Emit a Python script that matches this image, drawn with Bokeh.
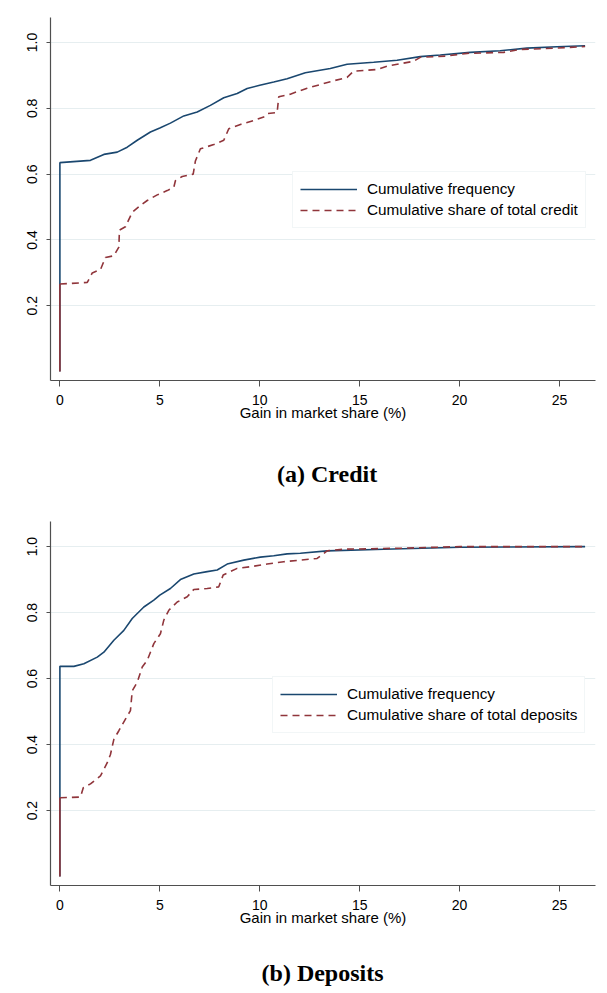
from bokeh.plotting import figure
from bokeh.models import (FixedTicker, NumeralTickFormatter, Legend, LegendItem,
                          Range1d)
from bokeh.core.properties import value
from bokeh.layouts import column
from bokeh.embed import file_html
from bokeh.resources import INLINE

# ---- Panel (a): credit ----
credit_freq_x = [0, 0, 1.53, 2.2, 2.87, 3.37, 3.87, 4.53, 5.0, 5.53, 6.2, 6.87, 7.53,
                 8.2, 8.87, 9.37, 10.0, 10.7, 11.37, 12.28, 13.53, 14.37, 15.7, 16.87,
                 18.03, 19.03, 20.53, 22.03, 23.37, 24.87, 26.28]
credit_freq_y = [0.0, 0.635, 0.642, 0.66, 0.667, 0.682, 0.703, 0.728, 0.74, 0.755, 0.777,
                 0.789, 0.809, 0.832, 0.845, 0.86, 0.87, 0.88, 0.89, 0.908, 0.921, 0.934,
                 0.94, 0.946, 0.957, 0.962, 0.97, 0.975, 0.983, 0.987, 0.99]

credit_share_x = [0, 0, 1.37, 1.62, 2.03, 2.28, 2.7, 2.95, 2.98, 3.28, 3.62, 4.03, 4.37,
                  4.87, 5.37, 5.7, 5.78, 6.12, 6.67, 6.78, 7.03, 7.7, 8.2, 8.45, 9.03,
                  9.7, 10.2, 10.37, 10.87, 10.95, 11.53, 12.03, 12.37, 13.53, 14.37,
                  14.7, 15.87, 16.37, 17.7, 18.03, 19.37, 20.37, 22.2, 23.03, 24.87, 26.28]
credit_share_y = [0.0, 0.266, 0.271, 0.30, 0.31, 0.347, 0.352, 0.378, 0.43, 0.44, 0.484,
                  0.505, 0.52, 0.537, 0.55, 0.56, 0.58, 0.593, 0.60, 0.64, 0.677, 0.69,
                  0.703, 0.738, 0.751, 0.763, 0.774, 0.784, 0.787, 0.835, 0.843, 0.854,
                  0.861, 0.881, 0.894, 0.913, 0.918, 0.928, 0.943, 0.955, 0.959, 0.967,
                  0.97, 0.979, 0.983, 0.988]

# ---- Panel (b): deposits ----
dep_freq_x = [0, 0, 0.7, 1.2, 1.87, 2.2, 2.7, 3.2, 3.62, 4.2, 4.7, 5.0, 5.53, 6.03, 6.7,
              7.37, 7.87, 8.37, 9.2, 10.03, 10.7, 11.37, 12.03, 13.37, 16.2, 20.03, 26.28]
dep_freq_y = [0.0, 0.637, 0.637, 0.645, 0.665, 0.68, 0.716, 0.746, 0.782, 0.817, 0.838,
              0.853, 0.873, 0.90, 0.917, 0.924, 0.929, 0.947, 0.959, 0.968, 0.972, 0.978,
              0.98, 0.987, 0.992, 0.998, 1.0]

dep_share_x = [0, 0, 1.03, 1.17, 1.53, 2.03, 2.37, 2.53, 2.7, 2.95, 3.28, 3.53, 3.62,
               3.87, 4.12, 4.37, 4.7, 5.03, 5.2, 5.45, 5.87, 6.37, 6.7, 7.37, 7.95, 8.17,
               8.87, 9.53, 10.37, 11.2, 12.87, 13.37, 14.2, 17.03, 20.03, 26.28]
dep_share_y = [0.0, 0.239, 0.241, 0.269, 0.281, 0.305, 0.345, 0.37, 0.416, 0.442, 0.477,
               0.503, 0.563, 0.589, 0.635, 0.655, 0.706, 0.736, 0.777, 0.807, 0.832,
               0.848, 0.87, 0.873, 0.878, 0.914, 0.934, 0.939, 0.947, 0.954, 0.964,
               0.987, 0.992, 0.995, 1.0, 1.0]

x_ticks = [0, 5, 10, 15, 20, 25]
y_ticks = [0.2, 0.4, 0.6, 0.8, 1.0]
x_title = "Gain in market share (%)"
freq_label = "Cumulative frequency"

BLUE = "#1a476f"
RED = "#90353b"
GRID = "#e6eef0"
AXIS = "#4f4f4f"
FONT = "Liberation Sans"


def panel(fx, fy, sx, sy, share_label, height, top, bottom, legend_left, legend_bottom):
    p = figure(width=607, height=height, output_backend="svg", toolbar_location=None,
               x_range=Range1d(-0.47, 26.8), y_range=Range1d(-0.027, 1.076),
               min_border_left=50, min_border_right=12, min_border_top=top,
               min_border_bottom=bottom)
    p.outline_line_color = None
    p.background_fill_color = "white"
    p.border_fill_color = "white"

    r_freq = p.line(fx, fy, line_color=BLUE, line_width=1.6)
    # the jump at zero is drawn solid, the rest of the share curve dashed
    p.line(sx[:2], sy[:2], line_color=RED, line_width=1.6)
    r_share = p.line(sx[1:], sy[1:], line_color=RED, line_width=1.6, line_dash="7 5")

    p.xgrid.visible = False
    p.ygrid.ticker = FixedTicker(ticks=y_ticks)
    p.ygrid.grid_line_color = GRID
    p.ygrid.grid_line_width = 1

    xa = p.xaxis[0]
    xa.ticker = FixedTicker(ticks=x_ticks)
    xa.axis_label = x_title
    xa.axis_label_text_font = FONT
    xa.axis_label_text_font_size = "15px"
    xa.axis_label_text_font_style = "normal"
    xa.axis_label_text_color = "black"
    xa.axis_label_standoff = -4
    xa.major_label_text_font = FONT
    xa.major_label_text_font_size = "14px"
    xa.major_label_text_color = "black"
    xa.major_label_standoff = 8
    xa.major_tick_out = 6
    xa.major_tick_in = 0
    xa.minor_tick_line_color = None
    xa.axis_line_color = AXIS
    xa.major_tick_line_color = AXIS
    xa.axis_line_width = 1.2

    ya = p.yaxis[0]
    ya.ticker = FixedTicker(ticks=y_ticks)
    ya.formatter = NumeralTickFormatter(format="0.0")
    ya.major_label_orientation = "vertical"
    ya.major_label_text_font = FONT
    ya.major_label_text_font_size = "14px"
    ya.major_label_text_color = "black"
    ya.major_label_standoff = 9
    ya.major_tick_out = 4
    ya.major_tick_in = 0
    ya.minor_tick_line_color = None
    ya.axis_line_color = AXIS
    ya.major_tick_line_color = AXIS
    ya.axis_line_width = 1.2

    legend = Legend(items=[LegendItem(label=freq_label, renderers=[r_freq]),
                           LegendItem(label=share_label, renderers=[r_share])],
                    location=(legend_left, legend_bottom))
    legend.label_text_font = FONT
    legend.label_text_font_size = "15.3px"
    legend.label_text_color = "black"
    legend.glyph_width = 57
    legend.glyph_height = 20
    legend.label_height = 20
    legend.label_standoff = 10
    legend.spacing = 1
    legend.padding = 7
    legend.margin = 0
    legend.border_line_color = GRID
    legend.border_line_width = 1
    legend.background_fill_color = "white"
    legend.background_fill_alpha = 1
    p.add_layout(legend, "center")
    return p


def caption_strip(text, height, cx, cy):
    """A blank strip carrying the bold serif panel caption."""
    c = figure(width=607, height=height, output_backend="svg", toolbar_location=None,
               x_range=Range1d(0, 607), y_range=Range1d(0, height),
               x_axis_type=None, y_axis_type=None,
               min_border_left=0, min_border_right=0, min_border_top=0,
               min_border_bottom=0)
    c.outline_line_color = None
    c.xgrid.visible = False
    c.ygrid.visible = False
    c.background_fill_color = "white"
    c.border_fill_color = "white"
    c.text(x=[cx], y=[cy], text=[text], text_align="center", text_baseline="middle",
           text_font=value("Liberation Serif"), text_font_size="24px",
           text_font_style="bold", text_color="black")
    return c


p1 = panel(credit_freq_x, credit_freq_y, credit_share_x, credit_share_y,
           "Cumulative share of total credit",
           height=440, top=17, bottom=60, legend_left=242, legend_bottom=152)
c1 = caption_strip("(a) Credit", 56, 308, 56 - 33)
p2 = panel(dep_freq_x, dep_freq_y, dep_share_x, dep_share_y,
           "Cumulative share of total deposits",
           height=440, top=25, bottom=51, legend_left=222, legend_bottom=152)
c2 = caption_strip("(b) Deposits", 57, 303, 57 - 36)

page = column(p1, c1, p2, c2, spacing=0)
open("out.html", "w").write(file_html(page, INLINE))
